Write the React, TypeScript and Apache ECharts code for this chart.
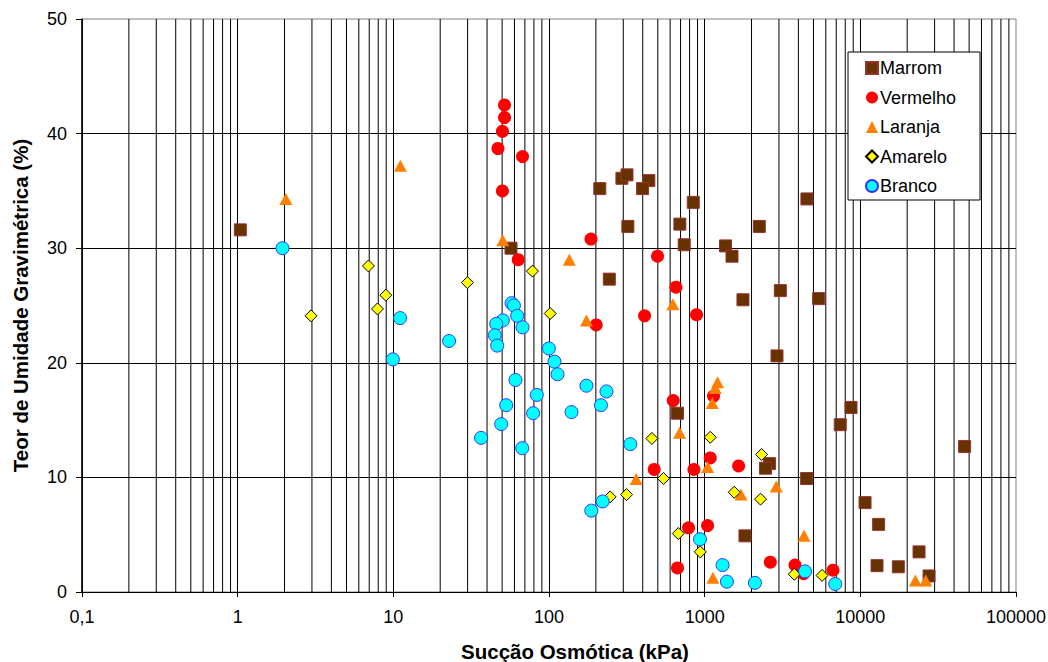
import React, { useEffect, useRef } from "react";
import * as echarts from "echarts";

// [suction kPa, gravimetric moisture %]
const marrom: [number, number][] = [
  [1.04, 31.6], [57, 30.0], [212, 35.2], [294, 36.1], [317, 36.4], [438, 35.9], [399, 35.2],
  [845, 34.0], [321, 31.9], [693, 32.1], [739, 30.3], [1361, 30.2], [244, 27.3], [4539, 34.3],
  [2244, 31.9], [1498, 29.3], [1762, 25.5], [3062, 26.3], [5397, 25.6], [2915, 20.6],
  [8712, 16.1], [7430, 14.6], [46750, 12.7], [2612, 11.2], [2459, 10.8], [4518, 9.9],
  [10720, 7.8], [13110, 5.9], [1815, 4.9], [23830, 3.5], [12800, 2.3], [17540, 2.2],
  [27640, 1.4], [669, 15.6],
];
const vermelho: [number, number][] = [
  [51.8, 42.5], [51.8, 41.4], [50.2, 40.2], [47, 38.7], [67.6, 38.0], [50.2, 35.0],
  [186, 30.8], [63.4, 29.0], [498, 29.3], [654, 26.6], [411, 24.1], [887, 24.2], [201, 23.3],
  [628, 16.7], [1140, 17.1], [1086, 11.7], [474, 10.7], [853, 10.7], [788, 5.6], [1044, 5.8],
  [669, 2.1], [1652, 11.0], [2640, 2.6], [3802, 2.35], [4320, 1.6], [6675, 1.9],
];
const laranja: [number, number][] = [
  [2.04, 34.3], [11.1, 37.2], [50.5, 30.7], [135, 29.0], [625, 25.1], [174, 23.7],
  [1210, 18.3], [1170, 17.8], [1119, 16.5], [690, 13.9], [1044, 10.9], [363, 9.85],
  [1130, 1.25], [1710, 8.5], [2884, 9.2], [4346, 4.9], [22570, 1.0], [26300, 1.0],
];
const amarelo: [number, number][] = [
  [2.96, 24.1], [6.92, 28.45], [7.91, 24.7], [8.95, 25.9], [29.9, 27.0], [78.3, 28.0],
  [101.8, 24.3], [458, 13.4], [1086, 13.5], [544, 9.9], [247, 8.3], [315, 8.5], [677, 5.1],
  [937, 3.5], [2320, 12.0], [1549, 8.7], [2286, 8.1], [3765, 1.55], [5675, 1.45],
];
const branco: [number, number][] = [
  [1.94, 30.0], [11.06, 23.9], [9.93, 20.3], [22.8, 21.9], [57.5, 25.2], [59.5, 25.0],
  [50.5, 23.7], [45.8, 23.4], [62.5, 24.1], [67.6, 23.1], [44.9, 22.4], [46.5, 21.5],
  [99.8, 21.25], [108.4, 20.1], [113.4, 19.0], [60.9, 18.5], [174, 18.0], [234, 17.5],
  [83.5, 17.2], [215.6, 16.3], [53.1, 16.3], [79.1, 15.6], [139.5, 15.7], [49.3, 14.65],
  [36.6, 13.45], [67.3, 12.55], [333, 12.9], [187, 7.1], [221, 7.9], [933, 4.6],
  [1303, 2.35], [1390, 0.9], [2104, 0.8], [4413, 1.8], [6900, 0.7],
];

const seriesNames = ["Marrom", "Vermelho", "Laranja", "Amarelo", "Branco"];
const xMin = 0.1;
const xMax = 100000;
const yMin = 0;
const yMax = 50;
const yInterval = 10;

// minor log grid lines (2..9 of each decade)
const minorLines: number[] = [];
for (let d = xMin; d < xMax; d *= 10) {
  for (let m = 2; m <= 9; m++) minorLines.push(Number((d * m).toPrecision(6)));
}

const FONT = "'Liberation Sans', Arial, sans-serif";

export default function App() {
  const ref = useRef<HTMLDivElement>(null);
  useEffect(() => {
    if (!ref.current) return;
    const chart = echarts.init(ref.current, null, { renderer: "svg" });
    const common = { type: "scatter", z: 3 };
    chart.setOption({
      animation: false,
      backgroundColor: "#fff",
      textStyle: { fontFamily: FONT },
      grid: {
        left: 82, right: 32, top: 19, bottom: 70,
        outerBoundsMode: "none",
        containLabel: false,
        show: true, borderColor: "#808080", borderWidth: 1, backgroundColor: "transparent",
      },
      legend: {
        data: seriesNames,
        orient: "vertical",
        left: 848,
        top: 52,
        padding: [7, 24, 5, 17],
        itemWidth: 12,
        itemHeight: 12,
        itemGap: 11.5,
        backgroundColor: "#fff",
        borderColor: "#000",
        borderWidth: 1,
        borderRadius: 0,
        textStyle: { fontFamily: FONT, fontSize: 18, color: "#000", padding: [0, 0, 0, -3] },
      },
      xAxis: {
        type: "log",
        logBase: 10,
        min: xMin,
        max: xMax,
        name: "Sucção Osmótica (kPa)",
        nameLocation: "middle",
        nameGap: 49,
        nameTextStyle: {
          fontFamily: FONT, fontSize: 20.5, fontWeight: "bold", color: "#000",
          padding: [0, 0, 0, 52],
        },
        axisLine: { show: true, onZero: false, lineStyle: { color: "#000", width: 1 } },
        axisTick: { show: true, length: 5, lineStyle: { color: "#000" } },
        axisLabel: {
          fontFamily: FONT, fontSize: 18, color: "#000", margin: 16,
          formatter: (v: number) => String(Number(v.toPrecision(6))).replace(".", ","),
        },
        splitLine: { show: true, showMaxLine: false, lineStyle: { color: "#000", width: 1 } },
      },
      yAxis: {
        type: "value",
        min: yMin,
        max: yMax,
        interval: yInterval,
        name: "Teor de Umidade Gravimétrica (%)",
        nameLocation: "middle",
        nameGap: 51,
        nameTextStyle: { fontFamily: FONT, fontSize: 20.5, fontWeight: "bold", color: "#000" },
        axisLine: { show: true, lineStyle: { color: "#000", width: 1.5 } },
        axisTick: { show: true, length: 6, lineStyle: { color: "#000" } },
        axisLabel: { fontFamily: FONT, fontSize: 18, color: "#000", margin: 15 },
        splitLine: { show: true, showMaxLine: false, lineStyle: { color: "#000", width: 1 } },
      },
      series: [
        {
          type: "custom",
          silent: true,
          z: 1,
          data: minorLines.map((v) => [v, yMin]),
          encode: { x: 0, y: 1 },
          renderItem: (_p: any, api: any) => {
            const v = api.value(0);
            const a = api.coord([v, yMin]);
            const b = api.coord([v, yMax]);
            return {
              type: "line",
              shape: { x1: a[0], y1: a[1], x2: b[0], y2: b[1] },
              style: { stroke: "#000", lineWidth: 1 },
            };
          },
        },
        {
          ...common, name: "Marrom", data: marrom, symbol: "rect", symbolSize: 12,
          itemStyle: { color: "#663300", borderColor: "#993333", borderWidth: 1, opacity: 1 },
        },
        {
          ...common, name: "Vermelho", data: vermelho, symbol: "circle", symbolSize: 13,
          itemStyle: { color: "#FF0000", opacity: 1 },
        },
        {
          ...common, name: "Laranja", data: laranja, symbol: "triangle", symbolSize: [13, 12],
          itemStyle: { color: "#FF8000", opacity: 1 },
        },
        {
          ...common, name: "Amarelo", data: amarelo, symbol: "diamond", symbolSize: 12,
          itemStyle: { color: "#FFFF00", borderColor: "#000", borderWidth: 1, opacity: 1 },
        },
        {
          ...common, name: "Branco", data: branco, symbol: "circle", symbolSize: 13,
          itemStyle: { color: "#00FFFF", borderColor: "#3333FF", borderWidth: 1, opacity: 1 },
        },
      ],
    });
    return () => chart.dispose();
  }, []);
  return (
    <div
      ref={ref}
      style={{ position: "fixed", left: 0, top: 0, width: 1048, height: 662, background: "#fff" }}
    />
  );
}
